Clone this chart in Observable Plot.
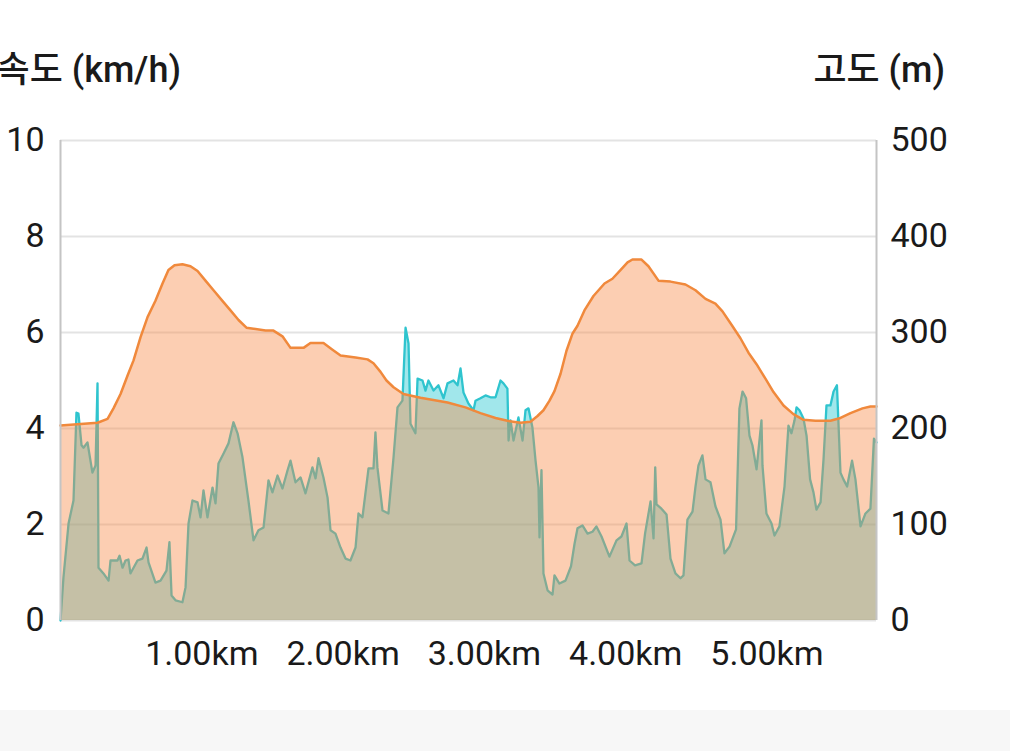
<!DOCTYPE html>
<html><head><meta charset="utf-8">
<script src="https://cdn.jsdelivr.net/npm/d3@7"></script>
<script src="https://cdn.jsdelivr.net/npm/@observablehq/plot@0.6"></script>
<style>
body{margin:0;background:#fff;width:1010px;height:751px;overflow:hidden;position:relative;font-family:Roboto,"Noto Sans CJK KR",sans-serif;}
.t{position:absolute;top:50px;font-size:36px;font-weight:500;line-height:40px;white-space:nowrap;color:#1a1a1a}
#tl{right:829px}
#tr{right:65px}
#chart{position:absolute;top:100px;left:0}
#band{position:absolute;top:710px;left:0;width:1010px;height:41px;background:#f7f7f7}
</style></head><body>
<div class="t" id="tl">속도 (km/h)</div><div class="t" id="tr">고도 (m)</div>
<div id="chart"></div><div id="band"></div>
<script>
const speedKm = [0,0.021,0.057,0.092,0.113,0.127,0.149,0.163,0.191,0.212,0.226,0.248,0.262,0.269,0.304,0.340,0.354,0.403,0.418,0.439,0.460,0.481,0.495,0.545,0.580,0.609,0.623,0.672,0.708,0.750,0.771,0.786,0.814,0.863,0.885,0.906,0.934,0.970,0.991,1.012,1.040,1.076,1.097,1.118,1.154,1.189,1.224,1.253,1.288,1.330,1.366,1.401,1.437,1.472,1.500,1.536,1.571,1.607,1.628,1.663,1.699,1.734,1.783,1.805,1.826,1.861,1.890,1.911,1.946,1.982,2.017,2.052,2.088,2.109,2.137,2.180,2.215,2.229,2.243,2.279,2.321,2.357,2.385,2.420,2.442,2.463,2.477,2.512,2.527,2.562,2.583,2.604,2.640,2.675,2.711,2.739,2.781,2.810,2.831,2.852,2.887,2.923,2.937,2.972,3.008,3.043,3.079,3.114,3.135,3.163,3.171,3.185,3.206,3.241,3.270,3.291,3.312,3.340,3.362,3.383,3.390,3.404,3.418,3.447,3.482,3.496,3.531,3.574,3.613,3.638,3.659,3.694,3.730,3.765,3.793,3.829,3.885,3.935,3.970,4.006,4.027,4.066,4.112,4.137,4.176,4.197,4.209,4.218,4.253,4.289,4.317,4.352,4.388,4.409,4.437,4.473,4.494,4.515,4.543,4.565,4.600,4.635,4.671,4.699,4.735,4.781,4.805,4.827,4.852,4.876,4.897,4.926,4.961,4.968,4.996,5.032,5.053,5.088,5.124,5.152,5.173,5.195,5.209,5.230,5.258,5.280,5.305,5.329,5.350,5.379,5.400,5.421,5.449,5.471,5.495,5.520,5.541,5.567,5.602,5.626,5.662,5.697,5.732,5.757,5.775];
const speedKmh = [0,0.90,2.02,2.50,4.33,4.31,3.65,3.60,3.71,3.33,3.08,3.23,4.94,1.10,0.98,0.83,1.25,1.25,1.35,1.10,1.25,1.27,0.98,1.25,1.29,1.52,1.21,0.79,0.83,1.04,1.63,0.52,0.42,0.38,0.69,2.02,2.50,2.46,2.15,2.71,2.15,2.77,2.44,3.27,3.48,3.69,4.13,3.90,3.40,2.50,1.67,1.88,1.94,2.92,2.67,3.02,2.75,3.13,3.33,2.88,2.98,2.65,3.19,2.96,3.38,2.98,2.56,1.88,1.81,1.52,1.29,1.25,1.52,2.23,2.15,3.17,3.17,3.92,3.19,2.29,2.23,3.40,4.44,4.58,6.10,5.77,4.10,3.90,5.04,5.00,4.79,5.00,4.79,4.90,4.63,4.94,5.00,4.90,5.25,4.75,4.52,4.38,4.58,4.63,4.69,4.65,4.65,5.00,4.94,4.83,3.75,4.17,3.75,4.23,3.75,4.38,4.42,4.02,3.33,2.77,1.73,3.13,0.98,0.63,0.54,0.94,0.77,0.83,1.13,1.60,1.92,1.98,1.81,1.85,1.96,1.75,1.33,1.67,1.75,2.02,1.25,1.15,1.19,1.81,2.48,1.71,3.19,2.42,2.33,2.21,1.29,0.98,0.88,0.94,2.10,2.27,2.79,3.23,3.44,2.94,2.88,2.38,2.10,1.40,1.54,1.90,4.42,4.77,4.63,3.85,3.65,3.15,4.17,3.23,2.23,2.02,1.77,1.96,2.79,4.06,3.90,4.17,4.44,4.38,4.21,3.85,2.94,2.67,2.31,2.46,3.35,4.48,4.48,4.77,4.90,3.08,2.94,2.79,3.33,2.94,1.96,2.23,2.33,3.79,3.71];
const altKm = [0,0.262,0.333,0.375,0.425,0.474,0.517,0.566,0.616,0.672,0.722,0.764,0.807,0.863,0.920,0.970,1.026,1.083,1.146,1.203,1.260,1.316,1.366,1.451,1.507,1.571,1.628,1.720,1.769,1.861,1.925,1.982,2.088,2.173,2.215,2.265,2.307,2.357,2.427,2.548,2.739,2.866,2.972,3.079,3.163,3.255,3.326,3.376,3.418,3.461,3.496,3.539,3.581,3.624,3.659,3.708,3.772,3.850,3.906,3.963,4.013,4.048,4.112,4.161,4.232,4.317,4.423,4.494,4.565,4.635,4.685,4.749,4.812,4.869,4.926,4.989,5.046,5.117,5.187,5.258,5.343,5.449,5.520,5.591,5.676,5.732,5.775];
const altM = [203,206,210,221,236,255,271,295,316,333,351,365,370,371,369,364,354,344,333,323,313,305,304,302,302,296,284,284,289,289,282,276,274,272,268,259,250,243,236,232,227,222,216,211,208,206,207,213,219,229,239,257,281,299,307,323,338,351,356,365,373,376,376,369,354,353,350,344,335,330,322,308,294,279,267,252,238,224,215,209,208,208,211,216,221,223,223];
const speedTicks = [0,2,4,6,8,10];
const altTicks = [0,100,200,300,400,500];
const distTicks = [1,2,3,4,5];
const distMax = 5.775;
const altPerSpeed = 50; // 500 m on the right axis = 10 km/h on the left axis

const speed = speedKm.map((k,i)=>({km:k, v:speedKmh[i]}));
const alt = altKm.map((k,i)=>({km:k, m:altM[i]}));

const chart = Plot.plot({
  width:1010, height:610,
  marginLeft:60, marginRight:134, marginTop:40, marginBottom:90,
  style:{fontFamily:"Roboto, 'Noto Sans CJK KR', sans-serif", fontSize:"34px", color:"#1a1a1a", background:"transparent"},
  x:{domain:[0,distMax]},
  y:{domain:[0,10]},
  marks:[
    Plot.ruleY(speedTicks, {stroke:"#e3e3e3", strokeWidth:2}),
    Plot.areaY(speed, {x:"km", y:"v", fill:"#14c3cd", fillOpacity:0.4, curve:"linear"}),
    Plot.lineY(speed, {x:"km", y:"v", stroke:"#2fc4ce", strokeWidth:2.3}),
    Plot.areaY(alt, {x:"km", y:d=>d.m/altPerSpeed, fill:"#f88945", fillOpacity:0.415}),
    Plot.lineY(alt, {x:"km", y:d=>d.m/altPerSpeed, stroke:"#f0893c", strokeWidth:2.5}),
    Plot.ruleX([0, distMax], {stroke:"#c4c4c4", strokeWidth:2}),
    Plot.axisY(speedTicks, {anchor:"left", tickSize:0, tickPadding:16, fontSize:34, label:null}),
    Plot.axisY(altTicks.map(a=>a/altPerSpeed), {anchor:"right", tickSize:0, tickPadding:14, fontSize:34, label:null, tickFormat:d=>Math.round(d*altPerSpeed)}),
    Plot.axisX(distTicks, {anchor:"bottom", tickSize:0, tickPadding:20, fontSize:34, label:null, tickFormat:d=>d.toFixed(2)+"km"})
  ]
});
document.getElementById("chart").appendChild(chart);
</script>
</body></html>
